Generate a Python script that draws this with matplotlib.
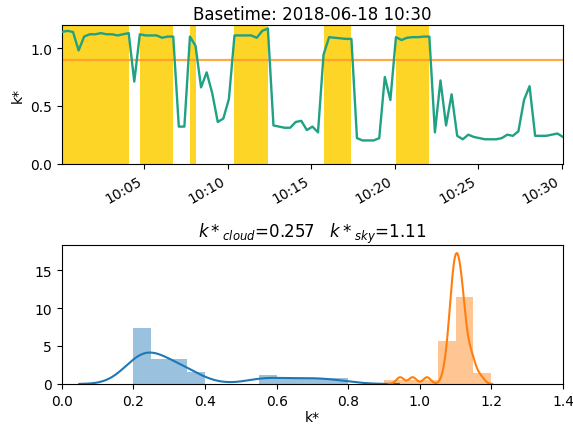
import numpy as np
import pandas as pd
import matplotlib
matplotlib.use("Agg")
import matplotlib.pyplot as plt
import matplotlib.dates as mdates

# ---------------- data ----------------
start_time = "2018-06-18 10:00:05"
step = "20s"
k_star = [
    1.14, 1.15, 1.14, 0.98, 1.10, 1.12, 1.12, 1.13, 1.12, 1.12,
    1.11, 1.12, 1.13, 0.71, 1.12, 1.11, 1.11, 1.11, 1.09, 1.10,
    1.10, 0.32, 0.32, 1.10, 1.02, 0.66, 0.79, 0.61, 0.36, 0.39,
    0.56, 1.11, 1.11, 1.11, 1.11, 1.09, 1.15, 1.17, 0.33, 0.32,
    0.31, 0.31, 0.36, 0.37, 0.29, 0.32, 0.27, 0.945, 1.095, 1.09,
    1.085, 1.08, 1.08, 0.22, 0.20, 0.20, 0.20, 0.22, 0.75, 0.55,
    1.095, 1.07, 1.09, 1.095, 1.095, 1.10, 1.10, 0.27, 0.72, 0.33,
    0.60, 0.24, 0.21, 0.25, 0.23, 0.22, 0.21, 0.21, 0.21, 0.22,
    0.25, 0.24, 0.28, 0.55, 0.67, 0.24, 0.24, 0.24, 0.25, 0.26,
    0.23,
]
threshold = 0.9
title_top = "Basetime: 2018-06-18 10:30"
title_bottom = r"$k*_{cloud}$=0.257   $k*_{sky}$=1.11"

times = pd.date_range(start_time, periods=len(k_star), freq=step)
k = np.array(k_star)
sky_mask = k >= threshold
cloud_vals = k[~sky_mask]
sky_vals = k[sky_mask]

# ---------------- helpers ----------------
def kde_curve(vals, gridsize=400, cut=3):
    vals = np.asarray(vals, dtype=float)
    n = len(vals)
    q75, q25 = np.percentile(vals, [75, 25])
    iqr = (q75 - q25) / 1.349
    sd = np.std(vals, ddof=1)
    a = min(sd, iqr) if iqr > 0 else sd
    bw = 1.059 * a * n ** (-0.2)
    grid = np.linspace(vals.min() - cut * bw, vals.max() + cut * bw, gridsize)
    dens = np.exp(-0.5 * ((grid[:, None] - vals[None, :]) / bw) ** 2).sum(1)
    dens /= n * bw * np.sqrt(2 * np.pi)
    return grid, dens

plt.rcParams["font.family"] = ["DejaVu Sans"]

fig = plt.figure(figsize=(5.73, 4.27), dpi=100)
ax1 = fig.add_axes([0.108, 0.6147, 0.8745, 0.3243])
ax2 = fig.add_axes([0.108, 0.0984, 0.8745, 0.3256])

# ---------------- top panel ----------------
idx = np.where(sky_mask)[0]
runs = np.split(idx, np.where(np.diff(idx) > 1)[0] + 1)
for r in runs:
    ax1.axvspan(times[r[0]], times[r[-1]], color="#fdd526", lw=0, zorder=1)
ax1.plot(times, k, color="#20a183", lw=1.7, zorder=3)
ax1.axhline(threshold, color="#ff9a2e", lw=1.6, alpha=0.85, zorder=2)
ax1.set_xlim(times[0], times[-1])
ax1.set_ylim(0, 1.2)
ax1.set_yticks([0.0, 0.5, 1.0])
ax1.set_ylabel("k*", fontsize=10)
ax1.set_title(title_top, fontsize=12, pad=4)
ax1.xaxis.set_major_locator(mdates.MinuteLocator(byminute=range(0, 60, 5)))
ax1.xaxis.set_major_formatter(mdates.DateFormatter("%H:%M"))
for lab in ax1.get_xticklabels():
    lab.set_rotation(30)
    lab.set_ha("right")
ax1.tick_params(labelsize=10)

# ---------------- bottom panel ----------------
bins = np.round(np.arange(0.0, 1.45, 0.05), 2)
ax2.hist(cloud_vals, bins=bins, density=True, color="C0", alpha=0.45, lw=0)
ax2.hist(sky_vals, bins=bins, density=True, color="C1", alpha=0.45, lw=0)
gx, gy = kde_curve(cloud_vals)
ax2.plot(gx, gy, color="C0", lw=1.5)
gx, gy = kde_curve(sky_vals)
ax2.plot(gx, gy, color="C1", lw=1.5)
ax2.set_xlim(0, 1.4)
ax2.set_ylim(0, 18.3)
ax2.set_yticks([0, 5, 10, 15])
ax2.set_xlabel("k*", fontsize=10, labelpad=2)
ax2.set_title(title_bottom, fontsize=12, pad=5)
ax2.tick_params(labelsize=10)

fig.savefig("out.png", dpi=100)
